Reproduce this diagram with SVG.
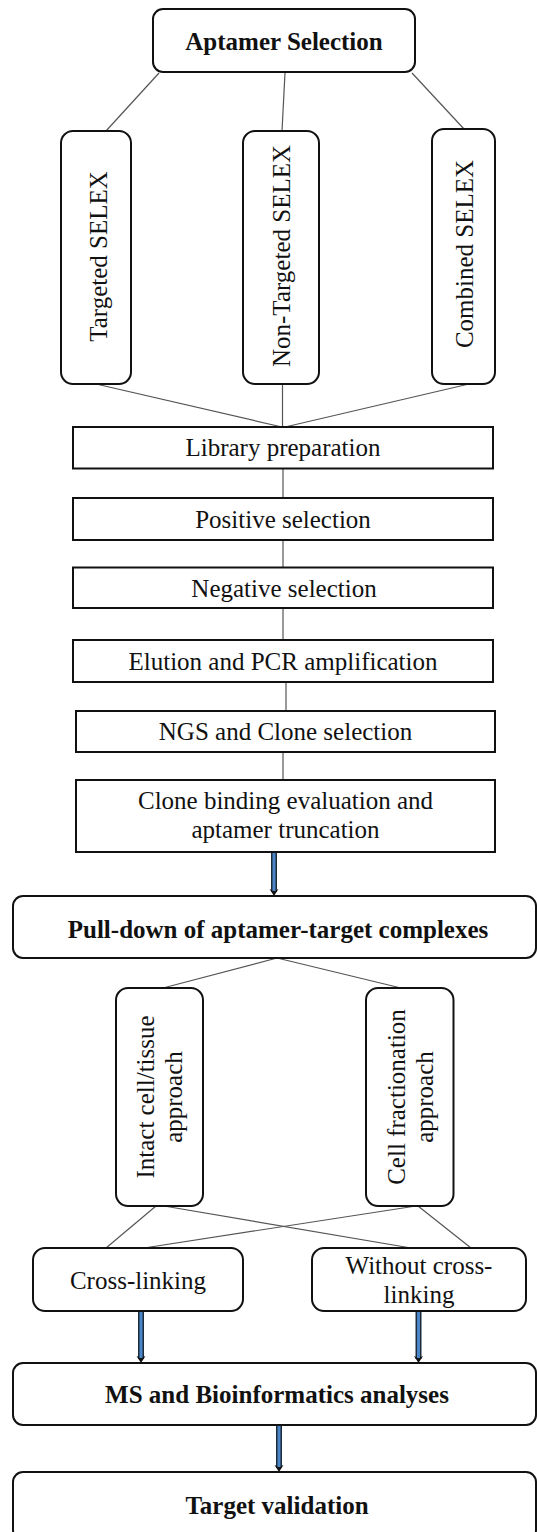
<svg xmlns="http://www.w3.org/2000/svg" width="537" height="1532" viewBox="0 0 537 1532">
<style>
.box{fill:#fff;stroke:#111;stroke-width:2}
.t{font-family:"Liberation Serif","Times New Roman",serif;font-size:25px;fill:#111;text-anchor:middle}
.b{font-weight:bold}
.ln{stroke:#555;stroke-width:1.2;fill:none}
.sh{stroke:#1d2a3a;stroke-width:6;fill:none}
.si{stroke:#4a86c8;stroke-width:3;fill:none}
</style>
<defs>
<marker id="ah" markerUnits="userSpaceOnUse" markerWidth="8" markerHeight="10" viewBox="0 0 8 10" refX="3" refY="5" orient="auto">
<path d="M0,0.5 L7,5 L0,9.5 L2,5 z" fill="#111"/>
</marker>
</defs>
<rect width="537" height="1532" fill="#fff"/>
<g id="connectors">
<line class="ln" x1="159" y1="73" x2="106" y2="131"/>
<line class="ln" x1="285" y1="73" x2="282" y2="131"/>
<line class="ln" x1="412" y1="73" x2="464" y2="129"/>
<line class="ln" x1="96" y1="384" x2="282" y2="427"/>
<line class="ln" x1="282.5" y1="384" x2="282.5" y2="427"/>
<line class="ln" x1="469" y1="384" x2="285" y2="427"/>
<line class="ln" x1="283" y1="468" x2="283" y2="498"/>
<line class="ln" x1="283" y1="540" x2="283" y2="568"/>
<line class="ln" x1="283" y1="608" x2="283" y2="640"/>
<line class="ln" x1="286" y1="682" x2="286" y2="711"/>
<line class="ln" x1="283" y1="752" x2="283" y2="780"/>
<line class="ln" x1="277" y1="958" x2="163" y2="988"/>
<line class="ln" x1="277" y1="958" x2="401" y2="988"/>
<line class="ln" x1="156" y1="1206" x2="106" y2="1248"/>
<line class="ln" x1="164" y1="1206" x2="411" y2="1248"/>
<line class="ln" x1="416" y1="1206" x2="144" y2="1248"/>
<line class="ln" x1="418" y1="1206" x2="471" y2="1248"/>
<line class="sh" x1="274" y1="852" x2="274" y2="892" marker-end="url(#ah)"/>
<line class="si" x1="274" y1="853" x2="274" y2="891"/>
<line class="sh" x1="141" y1="1311" x2="141" y2="1359" marker-end="url(#ah)"/>
<line class="si" x1="141" y1="1312" x2="141" y2="1358"/>
<line class="sh" x1="418.5" y1="1311" x2="418.5" y2="1359" marker-end="url(#ah)"/>
<line class="si" x1="418.5" y1="1312" x2="418.5" y2="1358"/>
<line class="sh" x1="279" y1="1425" x2="279" y2="1468" marker-end="url(#ah)"/>
<line class="si" x1="279" y1="1426" x2="279" y2="1467"/>
</g>
<g id="aptamer-selection">
<rect class="box" x="153" y="9" width="262" height="63" rx="10"/>
<text class="t b" x="284" y="49.5">Aptamer Selection</text>
</g>
<g id="targeted-selex">
<rect class="box" x="61" y="131" width="70" height="253" rx="12"/>
<text class="t" transform="translate(98,256.5) rotate(-90)" y="8.5">Targeted SELEX</text>
</g>
<g id="non-targeted-selex">
<rect class="box" x="243" y="131" width="76" height="253" rx="12"/>
<text class="t" transform="translate(281.5,256) rotate(-90)" y="8.5">Non-Targeted SELEX</text>
</g>
<g id="combined-selex">
<rect class="box" x="432" y="129" width="63" height="255" rx="12"/>
<text class="t" transform="translate(464.5,254) rotate(-90)" y="8.5">Combined SELEX</text>
</g>
<g id="library-preparation">
<rect class="box" x="73" y="427" width="420" height="41.5"/>
<text class="t" x="283" y="456">Library preparation</text>
</g>
<g id="positive-selection">
<rect class="box" x="73" y="498" width="420" height="42"/>
<text class="t" x="283" y="527.5">Positive selection</text>
</g>
<g id="negative-selection">
<rect class="box" x="73" y="567.5" width="420" height="40.5"/>
<text class="t" x="284" y="596.5">Negative selection</text>
</g>
<g id="elution-pcr">
<rect class="box" x="73" y="640" width="420" height="42"/>
<text class="t" x="283" y="669.5">Elution and PCR amplification</text>
</g>
<g id="ngs-clone-selection">
<rect class="box" x="76" y="711" width="419" height="41"/>
<text class="t" x="285.5" y="740">NGS and Clone selection</text>
</g>
<g id="clone-binding">
<rect class="box" x="76" y="780" width="419" height="72"/>
<text class="t" x="285.5" y="809">Clone binding evaluation and</text>
<text class="t" x="285.5" y="838">aptamer truncation</text>
</g>
<g id="pull-down">
<rect class="box" x="13" y="896" width="523" height="62" rx="10"/>
<text class="t b" x="278" y="938">Pull-down of aptamer-target complexes</text>
</g>
<g id="intact-cell">
<rect class="box" x="116" y="988" width="87" height="218" rx="12"/>
<text class="t" transform="translate(159.5,1097) rotate(-90)"><tspan x="0" y="-5.5">Intact cell/tissue</tspan><tspan x="0" y="22.5">approach</tspan></text>
</g>
<g id="cell-fractionation">
<rect class="box" x="366" y="988" width="87.5" height="218" rx="12"/>
<text class="t" transform="translate(410,1097) rotate(-90)"><tspan x="0" y="-5.5">Cell fractionation</tspan><tspan x="0" y="22.5">approach</tspan></text>
</g>
<g id="cross-linking">
<rect class="box" x="33" y="1248" width="210" height="63" rx="12"/>
<text class="t" x="138" y="1288.5">Cross-linking</text>
</g>
<g id="without-cross-linking">
<rect class="box" x="312" y="1248" width="214" height="63" rx="12"/>
<text class="t" x="419" y="1273.5">Without cross-</text>
<text class="t" x="419" y="1302.5">linking</text>
</g>
<g id="ms-bioinformatics">
<rect class="box" x="13" y="1363" width="523" height="62" rx="10"/>
<text class="t b" x="277" y="1403">MS and Bioinformatics analyses</text>
</g>
<g id="target-validation">
<rect class="box" x="13" y="1472" width="523" height="68" rx="10"/>
<text class="t b" x="277" y="1513.5">Target validation</text>
</g>
</svg>
